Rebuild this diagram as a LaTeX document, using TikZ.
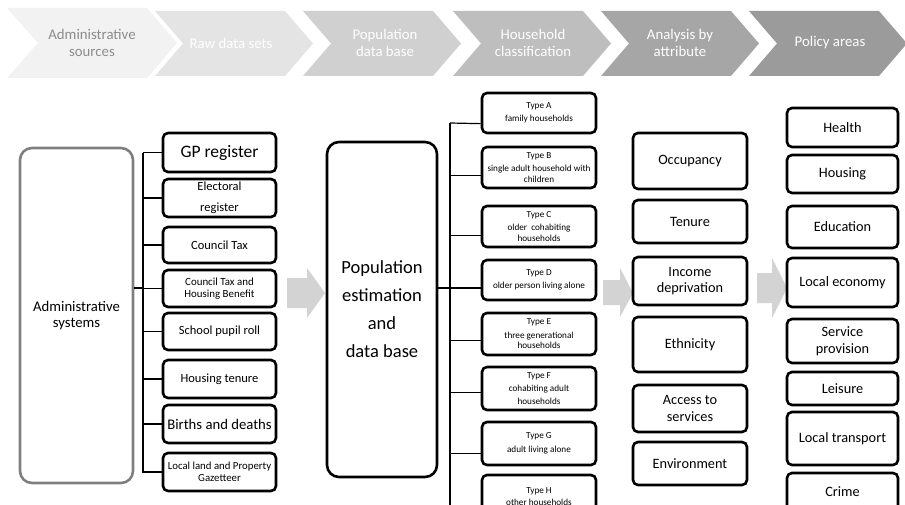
\documentclass[tikz,border=0pt]{standalone}
\usepackage{fontspec}
\setmainfont{Carlito}
\usetikzlibrary{calc}
\definecolor{ch1}{HTML}{F2F2F2}
\definecolor{ch2}{HTML}{E4E4E4}
\definecolor{ch3}{HTML}{D0D0D0}
\definecolor{ch4}{HTML}{BEBEBE}
\definecolor{ch5}{HTML}{A6A6A6}
\definecolor{ch6}{HTML}{9B9B9B}
\definecolor{ch1txt}{HTML}{8C8C8C}
\definecolor{arrowgray}{HTML}{D3D3D3}
\definecolor{admingray}{HTML}{7F7F7F}
\begin{document}
\begin{tikzpicture}[x=1pt,y=-1pt,
  bx/.style={draw=black, line width=2.6pt, rounded corners=5pt, align=center, inner sep=1pt},
  bigbx/.style={bx, rounded corners=12pt},
  ln/.style={line width=1.2pt},
  garrow/.style={fill=arrowgray, draw=none},
  chtxt/.style={align=center, text=white, font=\fontsize{14.8}{16.5}\selectfont},
  srcfont/.style={font=\fontsize{12.5}{14}\selectfont},
  typefont/.style={font=\fontsize{9.2}{10.5}\selectfont},
  attrfont/.style={font=\fontsize{14.3}{16.5}\selectfont},
]
\useasboundingbox (0,0) rectangle (905,505);
\clip (0,0) rectangle (905,505);
% chevrons
\fill[ch1] (7,8) -- (147,8) -- (177,43) -- (147,78) -- (7,78) -- (38,43) -- cycle;
\fill[ch2] (155,11) -- (285,11) -- (313,43.5) -- (285,76) -- (155,76) -- (183,43.5) -- cycle;
\fill[ch3] (303,11) -- (433,11) -- (461,43.5) -- (433,76) -- (303,76) -- (331,43.5) -- cycle;
\fill[ch4] (453,11) -- (583,11) -- (611,43.5) -- (583,76) -- (453,76) -- (481,43.5) -- cycle;
\fill[ch5] (601,11) -- (731,11) -- (759,43.5) -- (731,76) -- (601,76) -- (629,43.5) -- cycle;
\fill[ch6] (749,11) -- (879,11) -- (907,43.5) -- (879,76) -- (749,76) -- (777,43.5) -- cycle;
\node[chtxt, text=ch1txt] (t1) at (92,43) {Administrative\\sources};
\node[chtxt] (t2) at (231,43) {Raw data sets};
\node[chtxt] (t3) at (385,43) {Population\\data base};
\node[chtxt] (t4) at (533,43) {Household\\classification};
\node[chtxt] (t5) at (680,43) {Analysis by\\attribute};
\node[chtxt] (t6) at (830,43) {Policy areas};

% admin
\node[bigbx, draw=admingray, minimum width=113, minimum height=335, font=\fontsize{14.7}{16.5}\selectfont] (admin) at (76.5,315.5) {Administrative\\systems};

% sources
\node[bx, minimum width=113, minimum height=39, font=\fontsize{17.5}{19}\selectfont] (gp) at (219.5,152.5) {GP register};
\node[bx, minimum width=113, minimum height=38, font=\fontsize{12.5}{21}\selectfont] (el) at (219.5,198) {Electoral\\register};
\node[bx, minimum width=113, minimum height=36, srcfont] (ct) at (219.5,245) {Council Tax};
\node[bx, minimum width=113, minimum height=37, font=\fontsize{10.9}{11.5}\selectfont] (cth) at (219.5,288.5) {Council Tax and\\Housing Benefit};
\node[bx, minimum width=113, minimum height=37, srcfont] (sp) at (219.5,331.5) {School pupil roll};
\node[bx, minimum width=113, minimum height=38, srcfont] (ht) at (219.5,379) {Housing tenure};
\node[bx, minimum width=113, minimum height=38, font=\fontsize{14.7}{16}\selectfont] (bd) at (219.5,424) {Births and deaths};
\node[bx, minimum width=113, minimum height=38, font=\fontsize{10.8}{11.5}\selectfont] (ll) at (219.5,472) {Local land and Property\\Gazetteer};

\coordinate (busA) at (143,288);
\coordinate (busAtop) at (143,153);
\coordinate (busAbot) at (143,473);
\draw[ln] (busAtop) -- (busAbot);
\draw[ln] (admin.east |- busA) -- (busA);
\foreach \n in {gp,el,ct,cth,sp,ht,bd,ll}{
  \draw[ln] (busA |- \n.west) -- (\n.west);
}

% arrow 1
\fill[garrow] (287,278) -- (307,278) -- (307,268) -- (325,293) -- (307,318) -- (307,308) -- (287,308) -- cycle;

% population
\node[bigbx, minimum width=110, minimum height=335, font=\fontsize{18.5}{28}\selectfont] (pop) at (382,309.5) {Population\\estimation\\and\\data base};

% types
\node[bx, minimum width=114, minimum height=40, typefont] (tA) at (539,113) {Type A\\[2.5pt]family households};
\node[bx, minimum width=114, minimum height=41, typefont] (tB) at (539,167.5) {Type B\\[2.5pt]single adult household with\\children};
\node[bx, minimum width=114, minimum height=41, typefont] (tC) at (539,226.5) {Type C\\[3pt]older\ \ cohabiting\\households};
\node[bx, minimum width=114, minimum height=40, typefont] (tD) at (539,280) {Type D\\[3pt]older person living alone};
\node[bx, minimum width=114, minimum height=42, typefont] (tE) at (539,334) {Type E\\[3pt]three generational\\households};
\node[bx, minimum width=114, minimum height=43, typefont] (tF) at (539,388.5) {Type F\\[3pt]cohabiting adult\\[2.5pt]households};
\node[bx, minimum width=114, minimum height=43, typefont] (tG) at (539,443.5) {Type G\\[3pt]adult living alone};
\node[bx, minimum width=114, minimum height=45, typefont] (tH) at (539,497.5) {\raisebox{6.5pt}{\begin{tabular}{@{}c@{}}Type H\\[1.5pt]other households\end{tabular}}};

\coordinate (busB) at (450,288);
\coordinate (busBtop) at (450,123);
\coordinate (busBbot) at (450,510);
\draw[ln] (busBtop) -- (busBbot);
\draw[ln] (pop.east |- busB) -- (busB);
\draw[ln] (busBtop) -- ($(tA.south west)!0.25!(tA.north west)$);
\draw[ln] (busB |- {$(tB.south west)!0.32!(tB.north west)$}) -- ($(tB.south west)!0.32!(tB.north west)$);
\draw[ln] (busB |- {$(tC.south west)!0.29!(tC.north west)$}) -- ($(tC.south west)!0.29!(tC.north west)$);
\draw[ln] (busB) -- (tD.west |- busB);
\draw[ln] (busB |- {$(tE.south west)!0.36!(tE.north west)$}) -- ($(tE.south west)!0.36!(tE.north west)$);
\draw[ln] (busB |- {$(tF.south west)!0.42!(tF.north west)$}) -- ($(tF.south west)!0.42!(tF.north west)$);
\draw[ln] (busB |- {$(tG.south west)!0.28!(tG.north west)$}) -- ($(tG.south west)!0.28!(tG.north west)$);

% arrow 2
\fill[garrow] (603,280) -- (620,280) -- (620,268) -- (633,293) -- (620,317) -- (620,305) -- (603,305) -- cycle;

% attributes
\node[bx, minimum width=114, minimum height=56, attrfont] (occ) at (690,161) {Occupancy};
\node[bx, minimum width=114, minimum height=43, attrfont] (ten) at (690,221.5) {Tenure};
\node[bx, minimum width=114, minimum height=48, attrfont] (inc) at (690,281) {Income\\deprivation};
\node[bx, minimum width=114, minimum height=55, attrfont] (eth) at (690,344.5) {Ethnicity};
\node[bx, minimum width=114, minimum height=47, attrfont] (acc) at (690,408.5) {Access to\\services};
\node[bx, minimum width=114, minimum height=43, attrfont] (env) at (690,463.5) {Environment};

% arrow 3
\fill[garrow] (757,273) -- (772,273) -- (772,258) -- (787,288) -- (772,318) -- (772,303) -- (757,303) -- cycle;

% policy
\node[bx, minimum width=111, minimum height=39, attrfont] (health) at (842.5,127.5) {Health};
\node[bx, minimum width=111, minimum height=38, attrfont] (housing) at (842.5,174) {Housing};
\node[bx, minimum width=111, minimum height=42, attrfont] (edu) at (842.5,227) {Education};
\node[bx, minimum width=111, minimum height=49, attrfont] (econ) at (842.5,282.5) {Local economy};
\node[bx, minimum width=111, minimum height=44, attrfont] (serv) at (842.5,341) {Service\\provision};
\node[bx, minimum width=111, minimum height=33, attrfont] (leis) at (842.5,388.5) {Leisure};
\node[bx, minimum width=111, minimum height=53, attrfont] (trans) at (842.5,438.5) {Local transport};
\node[bx, minimum width=111, minimum height=44, attrfont] (crime) at (842.5,495) {\raisebox{7pt}{Crime}};
\end{tikzpicture}
\end{document}
